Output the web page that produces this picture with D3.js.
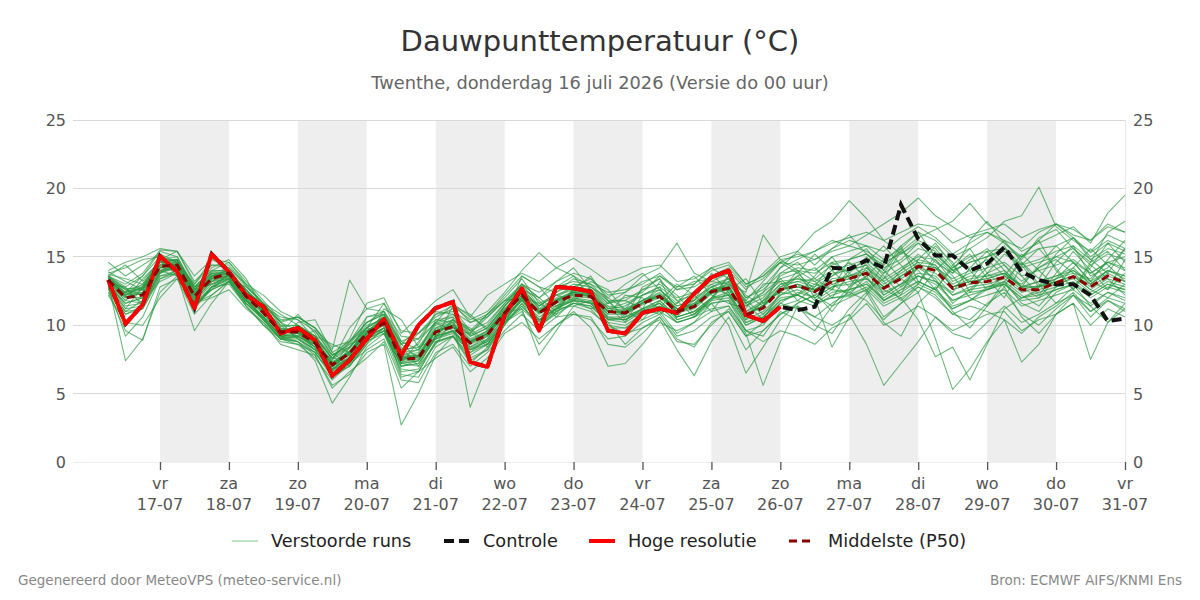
<!DOCTYPE html>
<html><head><meta charset="utf-8">
<script src="https://cdn.jsdelivr.net/npm/d3@7/dist/d3.min.js"></script>
<style>body{margin:0;background:#fff;}svg{display:block;font-family:"DejaVu Sans",sans-serif;}</style>
</head><body><svg id="c" width="1200" height="600"></svg>
<script>
// ---- DATA ----
const startTime = Date.UTC(2026, 6, 16, 6);   // first forecast step
const stepHours = 6;
const tickDays = ["vr","za","zo","ma","di","wo","do","vr","za","zo","ma","di","wo","do","vr"];
const tickDates = ["17-07","18-07","19-07","20-07","21-07","22-07","23-07","24-07","25-07","26-07","27-07","28-07","29-07","30-07","31-07"];
const shadedDays = ["2026-07-17","2026-07-19","2026-07-21","2026-07-23","2026-07-25","2026-07-27","2026-07-29"];
const yTicks = [0,5,10,15,20,25];

const hres = [13.3,10.1,11.5,15.05,13.9,11.25,15.2,13.9,12.2,11.35,
 9.4,9.8,8.9,6.3,7.45,9.0,10.45,7.8,10.0,11.25,
 11.7,7.3,6.95,10.75,12.7,9.6,12.8,12.7,12.45,9.6,
 9.4,10.9,11.2,10.9,12.3,13.5,14.0,10.75,10.3,11.35];

const control = [13.3,10.1,11.5,15.05,13.9,11.25,15.2,13.9,12.2,11.35,
 9.4,9.8,8.9,6.3,7.45,9.0,10.45,7.8,10.0,11.25,
 11.7,7.3,6.95,10.75,12.7,9.6,12.8,12.7,12.45,9.6,
 9.4,10.9,11.2,10.9,12.3,13.5,14.0,10.75,10.3,11.35,
 11.1,11.35,14.2,14.1,14.75,14.2,18.8,16.3,15.1,15.1,
 14.0,14.5,15.7,13.9,13.3,13.0,13.0,12.2,10.3,10.5];

const median = [13.3,12.0,12.2,14.3,14.4,12.1,13.4,13.8,12.1,10.9,
 9.5,9.5,8.7,7.1,7.95,9.4,10.15,7.5,7.6,9.5,
 9.9,8.7,9.3,10.9,12.2,10.9,11.7,12.2,12.1,11.0,
 10.9,11.6,12.1,11.0,11.35,12.45,12.7,10.75,11.25,12.6,
 12.9,12.45,13.2,13.4,13.8,12.7,13.4,14.3,14.0,12.7,
 13.1,13.2,13.5,12.6,12.6,13.1,13.55,12.8,13.6,13.1];

const members = [
[13.2,12.4,13.6,15.0,14.2,12.8,13.0,13.6,12.4,11.6, 10.2,9.0,8.2,7.6,8.8,10.2,10.8,8.2,9.4,10.6, 11.2,9.6,10.8,12.0,13.4,11.6,10.8,12.8,13.4,12.0, 11.2,12.6,13.4,11.8,10.6,12.0,13.6,12.2,11.4,13.8, 14.6,13.4,12.6,14.8,15.6,14.0,12.8,14.2,15.8,14.6, 12.4,13.8,15.2,14.4,12.8,14.6,15.8,13.6,14.2,15.6],
[12.8,9.2,10.6,13.4,13.8,11.2,12.8,13.4,11.8,10.4, 9.0,8.6,8.0,6.2,7.0,8.6,9.8,6.4,6.2,8.4, 9.2,7.6,8.2,10.0,11.6,9.8,11.0,11.6,11.2,9.8, 9.8,10.8,11.0,9.4,10.2,11.6,11.8,9.6,9.2,11.0, 10.4,9.6,11.4,12.8,13.6,11.8,12.6,13.2,12.6,11.2, 11.8,12.8,13.2,11.6,11.0,12.4,13.0,11.4,12.4,11.8],
[14.0,14.6,15.0,15.6,15.4,13.6,14.8,14.6,13.2,11.8, 10.4,10.6,9.8,8.4,8.8,10.6,11.0,9.2,9.0,10.8, 11.0,10.2,10.8,12.2,13.6,12.8,12.4,13.4,13.0,12.4, 12.6,13.0,13.8,12.6,12.8,13.6,14.2,12.8,13.4,14.6, 15.2,14.8,15.6,16.2,15.8,15.4,16.4,17.2,16.4,15.2, 16.0,16.8,16.2,15.6,16.8,17.4,16.6,16.2,17.4,16.8],
[12.6,10.8,11.4,13.8,14.2,11.6,12.6,13.2,11.4,10.2, 9.0,9.2,8.6,6.8,7.2,8.8,9.4,6.8,6.6,8.8, 9.2,8.2,8.6,10.2,11.2,10.0,11.2,11.4,11.0,10.0, 9.8,10.4,11.0,10.2,10.6,11.2,11.4,9.6,8.8,9.6, 9.2,8.6,9.8,10.4,11.6,10.0,10.6,11.4,10.6,9.6, 10.2,10.8,11.0,9.6,10.4,10.8,11.6,10.0,11.2,10.6],
[13.6,12.2,12.8,14.2,14.0,12.6,13.8,13.8,12.6,11.4, 10.6,10.4,9.6,7.8,8.6,10.2,10.8,8.6,9.0,10.2, 10.8,9.6,10.2,11.6,13.0,11.4,12.2,12.8,12.4,11.2, 11.6,12.2,12.8,11.8,12.2,13.2,13.8,12.0,12.8,14.2, 15.4,16.8,17.6,19.1,17.8,16.2,15.2,16.0,14.6,13.8, 14.8,15.6,14.4,13.2,14.2,15.0,14.6,13.8,14.6,14.0],
[13.0,11.8,11.6,13.8,14.4,12.0,13.4,13.6,11.8,10.6, 9.2,9.4,8.4,6.8,7.6,9.0,9.6,7.0,7.4,9.2, 9.6,8.2,8.8,10.4,11.8,10.4,11.2,11.8,11.6,10.4, 10.4,11.0,11.4,10.2,10.6,11.6,11.8,10.0,10.6,11.6, 11.2,10.6,10.0,10.8,8.6,5.6,7.2,8.8,10.6,9.4, 9.0,10.2,11.4,10.2,10.8,11.6,12.2,11.0,11.8,11.2],
[13.3,12.6,12.2,14.6,14.8,12.2,13.6,13.8,12.0,10.6, 9.2,8.8,7.8,5.6,6.4,8.0,8.6,2.7,5.0,7.8, 9.2,7.4,8.2,10.2,11.6,10.4,11.2,12.0,11.8,10.6, 10.4,11.2,11.8,10.6,11.0,12.0,12.4,10.4,11.0,12.2, 12.6,12.0,12.8,13.0,13.4,12.2,13.0,13.8,13.6,12.2, 12.6,12.8,13.0,12.0,12.2,12.6,13.0,12.2,13.0,12.6],
[12.9,11.6,12.0,14.0,14.4,11.8,13.2,13.8,12.2,11.0, 9.6,9.6,8.8,7.4,9.8,11.2,11.6,9.6,9.4,10.4, 10.6,4.0,7.2,10.2,12.0,11.0,11.8,12.4,12.2,11.0, 10.8,11.6,12.2,11.0,11.6,12.6,12.8,10.8,11.4,12.6, 13.0,12.6,13.4,13.6,14.2,13.0,13.8,14.6,14.4,12.8, 13.4,13.6,13.8,12.8,12.8,13.4,14.0,13.0,14.0,13.6],
[13.6,12.8,13.6,15.4,15.0,12.8,14.0,14.0,12.6,11.4, 10.2,10.6,9.8,8.2,13.3,11.2,11.0,8.6,9.8,11.2, 11.6,10.2,10.6,11.8,13.0,12.0,12.8,13.2,13.0,11.8, 11.8,12.6,13.0,12.0,12.4,13.4,13.8,12.0,12.6,13.8, 14.0,13.8,14.6,14.8,15.2,14.2,14.8,16.0,15.4,14.0, 14.6,15.0,15.4,14.2,14.6,15.0,15.6,14.4,15.2,14.8],
[13.0,7.4,9.0,12.4,13.6,9.6,11.6,13.2,11.6,10.4, 9.0,8.8,8.0,6.4,7.2,8.8,9.6,6.6,6.8,8.8, 9.2,7.8,8.6,10.2,11.4,10.0,10.8,11.6,11.4,10.2, 10.0,10.8,11.4,10.2,10.6,11.8,12.0,10.0,10.6,11.8, 12.2,11.6,12.4,12.6,13.0,11.8,12.6,13.6,13.2,11.8, 12.4,12.6,13.0,11.8,12.0,12.6,13.0,12.0,12.8,12.4],
[13.4,12.2,12.8,14.6,14.4,12.4,13.6,14.0,12.4,11.2, 9.6,9.8,9.2,7.6,8.4,9.8,10.6,7.8,8.2,9.8, 10.4,9.2,9.8,11.4,12.6,11.4,12.2,12.6,12.6,11.4, 11.2,11.8,12.6,11.4,11.8,13.0,13.4,11.4,12.0,13.6, 14.2,14.0,15.0,15.4,15.8,14.8,15.6,16.8,16.2,15.0, 15.6,16.4,17.6,18.0,20.1,17.2,16.2,15.4,16.6,16.0],
[13.2,12.0,12.6,14.6,14.8,12.4,13.8,14.0,12.2,11.0, 9.6,9.6,8.8,7.2,8.0,9.6,10.4,7.6,7.8,9.6, 10.0,8.8,9.6,11.2,12.4,11.4,12.4,13.0,12.8,11.6, 12.4,13.6,14.2,16.0,13.8,13.2,13.0,11.6,12.2,13.2, 13.4,13.0,13.8,14.0,14.4,13.2,14.0,14.8,14.4,13.0, 13.6,13.6,14.0,12.8,13.2,13.6,14.0,13.2,14.0,13.6],
[13.1,11.4,11.6,13.9,14.2,11.7,13.0,13.5,11.8,10.6, 9.3,9.2,8.4,6.8,7.6,9.1,9.8,7.0,7.2,9.1, 9.5,8.2,8.8,10.4,11.8,10.3,11.2,11.8,11.6,10.0, 9.4,9.8,10.4,8.2,6.3,8.8,10.6,8.2,9.6,10.8, 11.6,12.2,11.4,12.0,12.6,10.6,11.6,12.4,9.0,5.3, 6.8,8.8,10.4,9.4,10.6,11.4,12.4,11.0,12.0,11.6],
[13.5,12.7,12.6,14.3,14.2,12.0,13.3,13.6,12.1,10.8, 9.6,9.4,8.6,7.0,7.9,9.3,10.1,7.4,7.6,9.5, 9.9,8.7,9.4,11.0,12.3,10.9,11.8,12.4,12.2,11.0, 11.0,11.8,12.2,11.2,11.6,12.8,13.4,11.6,12.4,14.2, 14.8,15.4,16.2,15.8,16.6,17.4,18.2,19.3,18.0,17.2, 16.4,16.8,16.0,15.0,15.6,15.8,16.4,15.3,16.2,15.6],
[12.8,11.2,11.4,13.6,13.8,11.4,12.8,13.3,11.6,10.4, 9.1,9.1,8.2,6.6,7.5,9.0,9.8,7.2,7.4,9.2, 9.6,8.3,8.9,10.6,11.9,10.4,11.3,11.9,11.7,10.5, 10.4,11.1,11.6,10.4,10.8,11.9,12.2,10.2,10.8,12.0, 12.2,11.6,12.0,12.1,12.6,11.4,12.0,12.8,12.2,10.8, 11.4,11.0,10.4,7.3,8.6,10.8,11.6,7.5,10.2,11.2],
[13.6,13.0,13.8,15.5,15.4,13.2,14.4,14.4,12.9,11.6, 10.3,10.6,9.8,8.0,8.8,10.2,11.0,8.8,9.4,10.8, 11.4,10.4,11.0,12.4,14.0,15.3,14.2,14.9,14.1,13.2, 13.6,14.2,14.4,13.2,13.4,14.2,14.6,13.0,13.6,14.6, 14.4,14.8,15.4,15.8,15.4,14.6,15.2,16.2,15.6,14.2, 15.0,15.4,15.6,14.4,14.8,15.4,15.8,14.8,15.6,15.2],
[13.2,12.1,12.3,14.2,14.5,12.0,13.4,13.9,12.2,10.9, 9.5,9.5,8.7,7.0,7.9,9.4,10.2,7.5,7.7,9.6, 10.0,8.8,9.4,11.0,12.2,10.9,11.8,12.3,12.1,11.0, 10.9,11.7,12.2,11.0,11.4,12.5,12.8,10.8,11.4,12.8, 13.2,13.4,14.4,14.8,15.2,14.4,15.4,16.4,17.0,17.6, 18.9,17.4,16.6,15.4,16.0,16.6,17.2,16.0,18.2,19.5],
[13.0,11.6,12.0,14.0,14.2,11.8,13.2,13.6,11.9,10.5, 9.0,8.8,7.4,4.3,6.2,8.4,9.4,6.2,6.6,8.7, 9.2,7.2,8.4,10.2,11.4,10.0,11.0,11.6,11.4,10.2, 8.6,9.8,10.6,9.0,8.4,10.2,11.0,9.2,10.2,11.6, 12.4,12.0,12.8,13.2,13.4,12.4,13.0,13.6,13.2,12.2, 12.8,13.0,13.4,12.4,12.8,13.2,13.6,12.6,13.4,13.0],
[13.4,12.4,12.7,14.6,14.7,12.5,13.7,14.0,12.3,11.1, 9.7,9.8,8.9,7.3,8.1,9.6,10.4,7.7,7.9,9.8, 10.2,9.0,9.6,11.2,12.4,11.0,11.9,12.5,12.3,11.0, 11.1,11.8,12.4,11.2,11.5,12.6,13.0,12.4,16.6,14.8, 14.0,12.0,8.4,10.6,12.2,13.8,15.6,14.0,12.6,14.2, 15.2,13.4,12.0,14.4,15.6,14.2,12.6,14.6,15.4,14.0],
[12.7,10.8,11.2,13.6,14.0,11.4,12.6,13.2,11.6,10.4, 9.0,9.0,8.2,6.7,7.6,9.0,9.6,7.0,7.2,9.0, 9.4,8.0,8.6,10.2,11.0,8.6,10.0,11.0,9.8,7.0, 7.2,8.6,10.2,9.6,10.2,11.0,11.4,9.6,10.0,11.4, 11.8,11.4,12.2,12.6,13.0,12.0,12.8,13.6,13.0,11.8, 12.2,12.6,13.0,12.0,12.4,12.8,13.2,12.2,13.0,12.6],
[13.9,13.2,12.6,14.8,15.4,13.0,14.4,14.2,13.0,12.2, 11.0,10.4,9.0,7.6,9.0,11.6,12.0,9.4,10.6,11.8, 12.6,10.6,12.2,13.0,13.8,13.2,14.2,13.6,12.8,12.0, 13.0,13.8,12.6,11.6,13.0,14.2,13.4,11.8,13.2,14.6, 13.8,15.2,14.0,12.8,14.6,15.8,14.4,13.0,15.2,14.0, 13.2,15.0,16.2,14.6,13.4,15.2,16.4,14.8,13.8,15.6],
[12.4,11.0,11.8,13.2,13.8,11.2,12.8,13.0,11.4,10.0, 8.8,8.6,7.6,6.0,7.2,8.2,9.0,6.0,5.8,8.0, 8.6,7.0,8.0,9.6,10.8,9.6,10.6,10.8,10.4,9.0, 9.2,10.2,10.8,9.2,9.6,10.6,11.0,9.2,9.6,10.8, 11.4,10.6,11.6,12.4,11.8,10.4,11.6,12.8,12.0,10.8, 10.4,11.6,12.4,10.8,10.0,11.2,12.2,10.6,11.8,11.0],
[13.6,14.4,13.2,14.8,15.0,12.6,13.0,13.4,12.8,11.6, 10.8,10.0,9.2,8.6,8.0,9.8,11.6,8.8,8.2,10.2, 11.6,10.6,9.8,11.4,13.0,12.0,11.0,12.6,13.6,11.8, 10.6,12.8,13.4,10.8,11.8,13.8,12.4,10.4,11.8,13.4, 12.2,13.6,15.0,13.4,12.4,14.6,15.8,13.2,12.6,14.4, 15.6,13.8,12.8,15.0,16.2,14.0,12.6,14.2,16.0,14.6],
[13.1,11.2,12.8,14.8,13.6,11.4,12.6,13.8,12.6,11.2, 10.0,9.0,8.0,6.4,7.0,8.8,10.6,8.4,7.0,8.6, 10.4,9.6,8.4,10.0,12.8,11.8,10.6,11.8,12.8,11.8, 10.4,11.2,13.2,12.2,10.8,11.8,13.6,11.6,10.4,12.4, 13.6,12.4,11.0,12.6,14.2,13.2,11.8,13.0,14.8,13.6, 12.0,11.4,13.2,14.6,13.0,11.6,12.8,14.4,13.4,12.2],
[13.2,12.2,12.4,14.4,14.5,12.2,13.5,13.9,12.2,10.9, 9.5,9.6,8.8,7.1,8.0,9.5,10.2,7.6,7.8,9.6, 10.0,8.8,9.4,10.9,11.2,7.8,9.6,11.4,11.8,10.6, 10.6,11.2,11.8,10.6,11.0,11.6,10.0,6.5,8.4,10.4, 11.6,12.2,13.0,13.4,13.8,12.8,13.6,14.4,14.2,12.8, 13.2,13.4,13.8,12.8,13.2,13.6,14.2,13.0,14.0,13.4],
[13.5,12.4,13.0,14.8,14.8,12.6,13.9,14.1,12.5,11.2, 9.9,10.0,9.2,7.5,8.3,9.8,10.6,8.2,8.4,10.1, 10.6,9.3,10.0,11.6,13.0,12.4,13.2,13.8,13.4,12.2, 12.4,13.2,13.6,12.8,13.0,14.0,14.4,13.0,13.6,14.8, 15.0,15.4,16.0,16.4,16.8,16.2,16.8,17.4,17.2,16.0, 16.6,17.0,17.4,16.4,17.0,17.4,17.0,16.2,17.2,16.8],
[13.4,12.1,12.0,14.2,14.4,12.0,13.4,13.8,12.1,10.9, 9.5,9.5,8.7,7.1,7.9,9.4,10.2,7.5,7.7,9.5, 9.9,8.7,9.3,10.9,12.2,10.9,11.7,12.3,12.1,11.0, 10.9,11.6,12.1,11.0,11.4,12.4,12.7,10.8,11.3,12.6, 12.8,12.4,13.2,13.4,13.8,12.6,12.0,10.4,7.7,8.4, 6.0,8.6,11.2,12.0,12.6,13.0,13.4,12.4,13.2,12.8],
[13.3,12.3,12.6,14.4,14.4,12.2,13.5,13.8,12.1,10.9, 9.5,9.5,8.7,7.1,7.9,9.4,10.1,7.5,7.7,9.5, 9.9,8.7,9.3,10.9,12.2,10.9,11.7,12.2,12.1,11.0, 10.9,11.6,12.1,11.0,11.3,12.4,12.7,10.9,11.4,12.8, 13.6,14.2,13.0,12.2,13.6,14.8,13.4,12.4,14.0,15.2, 14.0,12.6,13.6,15.2,14.0,12.8,14.2,15.6,14.4,13.2],
[12.4,9.6,8.9,12.8,13.4,10.8,12.2,13.2,11.8,10.6, 9.2,9.2,8.4,6.8,7.7,9.2,10.0,7.3,7.5,9.3, 9.8,8.6,9.2,10.8,12.0,10.8,11.6,12.1,12.0,10.8, 10.8,11.5,12.0,10.9,11.2,12.3,12.6,10.8,11.4,12.6, 12.8,12.6,13.2,13.6,13.8,12.8,13.4,14.2,13.8,12.6, 13.0,13.2,13.6,12.6,12.9,13.4,13.8,12.8,13.6,13.2],
[13.6,12.6,12.9,14.6,14.6,12.3,13.6,14.0,12.3,11.1, 9.7,9.7,8.9,7.3,8.1,9.6,10.3,7.7,7.8,9.7, 10.1,8.9,9.5,11.1,12.4,11.1,11.9,12.4,12.3,11.2, 11.1,11.8,12.3,11.2,11.5,12.6,12.9,11.0,11.6,13.0, 13.4,13.2,14.0,14.4,14.8,13.8,14.6,15.6,15.2,14.0, 14.6,15.0,15.6,15.0,16.2,17.4,16.4,15.0,16.0,15.4],
[13.0,12.8,11.4,14.0,13.6,11.6,12.2,13.2,11.4,10.0, 9.0,10.2,10.4,8.0,7.0,8.6,11.2,10.4,8.4,9.0, 11.4,10.8,9.6,10.4,13.6,12.8,11.4,12.4,13.2,12.6, 11.0,10.4,11.8,13.0,12.2,11.0,12.6,13.4,11.6,12.4, 14.0,13.2,12.0,13.8,15.0,13.6,12.2,14.8,16.0,14.4, 13.0,14.2,15.8,13.6,12.2,13.8,15.4,14.0,12.6,14.8],
[14.6,13.6,14.4,15.2,14.6,12.6,14.2,14.8,13.4,11.2, 9.4,10.8,9.4,6.8,8.8,9.8,9.4,7.2,8.8,10.2, 9.6,9.4,10.8,11.8,12.0,10.2,12.8,13.6,12.0,10.8, 12.2,12.0,11.2,12.8,13.6,12.2,11.6,11.2,13.0,13.2, 11.8,12.8,14.6,13.8,12.6,13.4,15.4,14.6,13.2,12.4, 14.2,15.4,14.0,12.8,14.4,15.8,14.6,13.2,14.8,16.2],
[12.2,10.2,10.0,12.0,13.4,11.6,12.0,12.6,11.2,10.2, 8.6,8.2,7.8,5.4,6.6,7.6,8.8,5.4,6.6,7.6, 8.4,6.6,7.6,9.4,10.2,9.0,10.0,10.8,10.6,8.6, 8.4,9.4,10.6,8.8,8.6,10.0,11.2,9.4,5.6,8.8, 11.4,10.0,9.4,11.2,12.4,10.2,9.2,11.6,12.8,11.0, 9.8,11.4,12.8,10.6,9.4,10.8,12.2,11.4,10.2,11.6],
[13.8,14.2,14.8,15.0,14.6,13.0,14.8,14.2,12.8,11.6, 10.2,9.6,8.4,7.0,7.6,10.6,10.8,8.0,8.6,11.0, 10.8,9.4,10.6,11.8,12.6,12.0,13.2,14.2,12.6,11.6, 12.0,12.4,13.6,12.6,13.2,13.4,14.0,12.6,13.8,15.0, 15.4,14.4,15.6,16.6,15.2,14.0,15.8,16.8,15.0,13.8, 16.2,17.6,16.0,14.8,16.4,17.0,15.6,14.6,16.8,17.6],
[13.2,11.8,13.4,14.6,14.0,12.4,13.2,13.4,12.4,11.2, 9.8,9.2,9.6,7.8,8.6,9.2,9.8,7.8,8.0,10.4, 10.2,8.4,9.2,11.4,12.6,11.2,11.4,12.0,11.6,11.4, 10.2,11.0,11.6,10.6,12.0,12.8,12.2,10.6,11.8,12.4, 12.2,13.0,12.6,12.4,13.2,11.8,12.4,13.2,12.6,11.4, 11.8,12.6,13.2,12.2,11.4,12.8,13.6,12.6,12.0,13.0],
[13.4,12.6,11.6,13.8,14.8,12.8,13.8,13.4,11.6,10.6, 9.8,9.4,8.2,6.6,8.4,10.0,10.4,7.2,7.0,9.2, 10.4,9.8,8.6,10.4,12.0,11.6,12.2,11.8,11.2,11.6, 11.8,11.2,10.8,11.6,12.4,13.0,12.2,11.4,12.4,13.4, 13.8,12.6,13.6,14.6,13.4,12.6,14.0,15.2,14.2,13.4, 14.0,14.8,13.6,13.0,14.2,14.8,13.8,13.4,14.6,15.0],
[12.6,12.4,12.8,14.0,14.2,11.4,12.8,13.8,12.0,10.4, 9.0,9.8,9.2,7.6,7.4,9.4,10.8,8.6,7.6,9.0, 9.6,8.0,9.0,11.0,12.0,10.0,11.2,12.6,12.6,10.4, 10.2,12.2,12.8,10.4,10.8,12.0,13.2,11.8,10.8,12.2, 13.0,11.8,12.6,14.0,14.4,12.2,13.0,14.2,13.4,11.6, 12.6,13.8,14.4,12.8,12.0,13.4,14.6,13.2,12.6,13.8],
[13.7,13.4,13.0,14.6,14.8,12.8,14.0,14.6,13.0,11.6, 10.0,10.0,9.2,7.8,8.4,9.8,10.6,8.0,8.2,10.0, 10.4,9.2,9.8,11.4,12.8,11.2,12.0,12.8,12.6,11.2, 11.4,12.2,12.6,11.4,11.8,12.8,13.2,11.0,11.8,13.0, 13.2,12.8,13.6,14.2,14.6,13.4,14.2,15.0,14.8,13.2, 13.8,14.2,14.6,13.6,14.0,14.4,14.8,13.8,14.6,14.2],
[12.9,11.0,11.2,13.4,14.0,11.6,12.8,13.4,11.8,10.6, 9.2,9.2,8.6,7.2,7.8,9.2,9.8,7.2,7.4,9.2, 9.6,8.4,9.0,10.6,11.8,10.6,11.4,11.8,11.6,10.4, 10.6,11.2,11.6,10.6,11.0,12.0,12.2,10.2,10.6,11.8, 12.2,11.6,12.0,12.2,12.8,11.6,12.2,13.0,12.4,11.2, 11.8,12.2,12.6,11.4,11.8,12.2,12.6,11.6,12.4,12.0],
[13.1,12.0,12.4,14.4,14.6,12.2,13.6,14.0,12.2,11.0, 9.6,9.6,8.8,7.2,8.0,9.4,10.2,7.6,7.8,9.6, 10.0,8.8,9.4,11.0,12.2,11.0,11.8,12.2,12.2,11.0, 11.0,11.6,12.2,11.2,11.4,12.4,12.8,10.8,11.4,12.6, 13.0,12.6,13.2,13.6,14.0,12.8,13.6,14.4,14.2,12.8, 13.2,13.4,13.8,12.8,12.8,13.2,13.6,13.0,13.8,13.2]
];

// ---- LAYOUT ----
const plot = {left: 73, right: 1125, top: 120, bottom: 462};
const svg = d3.select("#c");

const x = d3.scaleUtc()
  .domain([new Date(Date.UTC(2026, 6, 15, 17, 43)), new Date(Date.UTC(2026, 6, 31))])
  .range([plot.left, plot.right]);
const y = d3.scaleLinear().domain([0, 25]).range([plot.bottom, plot.top]);
const t = i => new Date(startTime + i * stepHours * 3600e3);

// shaded days
svg.append("g").selectAll("rect").data(shadedDays).join("rect")
  .attr("x", d => x(new Date(d + "T00:00Z")))
  .attr("width", d => x(new Date(d + "T00:00Z").getTime() + 864e5) - x(new Date(d + "T00:00Z")))
  .attr("y", plot.top).attr("height", plot.bottom - plot.top)
  .attr("fill", "#eeeeee");

// grid
svg.append("g").selectAll("line").data(yTicks).join("line")
  .attr("x1", plot.left).attr("x2", plot.right)
  .attr("y1", d => y(d)).attr("y2", d => y(d))
  .attr("stroke", d => d === 0 ? "#eeeeee" : "#d9d9d9").attr("stroke-width", 1)
  .attr("shape-rendering", "crispEdges");
svg.append("line").attr("x1", plot.right + 0.5).attr("x2", plot.right + 0.5)
  .attr("y1", plot.top).attr("y2", plot.bottom).attr("stroke", "#e6e6e6");

// y labels
const yl = svg.append("g").attr("font-size", 16).attr("fill", "#555");
yl.selectAll("text.l").data(yTicks).join("text").attr("class", "l")
  .attr("x", 66).attr("y", d => y(d) + 6).attr("text-anchor", "end").text(d => d);
yl.selectAll("text.r").data(yTicks).join("text").attr("class", "r")
  .attr("x", 1133).attr("y", d => y(d) + 6).attr("text-anchor", "start").text(d => d);

// x axis ticks
const tickTimes = tickDates.map((d, i) => new Date(Date.UTC(2026, 6, 17 + i)));
const xa = svg.append("g").attr("transform", `translate(0,${plot.bottom})`)
  .call(d3.axisBottom(x).tickValues(tickTimes).tickSize(8).tickFormat(""));
xa.select(".domain").remove();
xa.selectAll(".tick line").attr("stroke", "#555").attr("stroke-width", 1.3);
const xl = svg.append("g").attr("font-size", 16).attr("fill", "#555").attr("text-anchor", "middle");
xl.selectAll("text.d").data(tickTimes).join("text").attr("class", "d")
  .attr("x", d => x(d)).attr("y", 489).text((d, i) => tickDays[i]);
xl.selectAll("text.n").data(tickTimes).join("text").attr("class", "n")
  .attr("x", d => x(d)).attr("y", 510).text((d, i) => tickDates[i]);

// lines
const line = d3.line().x((d, i) => x(t(i))).y(d => y(d));
svg.append("defs").append("clipPath").attr("id", "pc")
  .append("rect").attr("x", plot.left).attr("y", plot.top - 10)
  .attr("width", plot.right - plot.left + 2).attr("height", plot.bottom - plot.top + 20);
const g = svg.append("g").attr("clip-path", "url(#pc)");
g.selectAll("path.m").data(members).join("path").attr("class", "m")
  .attr("d", line).attr("fill", "none")
  .attr("stroke", "#2b9a42").attr("stroke-opacity", 0.68).attr("stroke-width", 1.1)
  .attr("stroke-linejoin", "round");
g.append("path").attr("d", line(control)).attr("fill", "none")
  .attr("stroke", "#111").attr("stroke-width", 4).attr("stroke-dasharray", "10,5");
g.append("path").attr("d", line(hres)).attr("fill", "none")
  .attr("stroke", "#ff0000").attr("stroke-width", 4).attr("stroke-linejoin", "round");
g.append("path").attr("d", line(median)).attr("fill", "none")
  .attr("stroke", "#8b0000").attr("stroke-width", 3).attr("stroke-dasharray", "8,5");

// titles
svg.append("text").attr("x", 600).attr("y", 51).attr("text-anchor", "middle")
  .attr("font-size", 29).attr("fill", "#333").text("Dauwpunttemperatuur (°C)");
svg.append("text").attr("x", 600).attr("y", 89).attr("text-anchor", "middle")
  .attr("font-size", 17.8).attr("fill", "#666").text("Twenthe, donderdag 16 juli 2026 (Versie do 00 uur)");

// legend
const legendItems = [
  {label: "Verstoorde runs", x: 232, color: "#7cc68a", w: 1, dash: null},
  {label: "Controle", x: 444, color: "#111", w: 4, dash: "10,5"},
  {label: "Hoge resolutie", x: 589, color: "#ff0000", w: 4, dash: null},
  {label: "Middelste (P50)", x: 789, color: "#8b0000", w: 3, dash: "8,5"}
];
const lg = svg.append("g");
legendItems.forEach(it => {
  lg.append("line").attr("x1", it.x).attr("x2", it.x + 26).attr("y1", 541).attr("y2", 541)
    .attr("stroke", it.color).attr("stroke-width", it.w).attr("stroke-dasharray", it.dash);
  lg.append("text").attr("x", it.x + 39).attr("y", 547).attr("font-size", 17.7)
    .attr("fill", "#222").text(it.label);
});

// footer
svg.append("text").attr("x", 18).attr("y", 585).attr("font-size", 13.5)
  .attr("fill", "#888").text("Gegenereerd door MeteoVPS (meteo-service.nl)");
svg.append("text").attr("x", 1182).attr("y", 585).attr("font-size", 13.5).attr("text-anchor", "end")
  .attr("fill", "#888").text("Bron: ECMWF AIFS/KNMI Ens");
</script></body></html>
